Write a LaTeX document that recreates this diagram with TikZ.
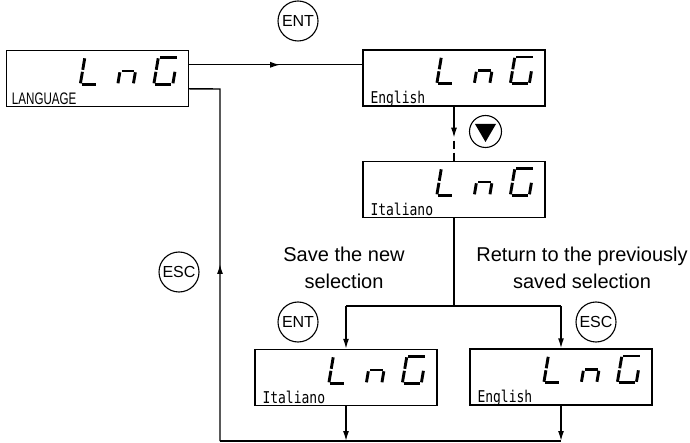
\documentclass[tikz,border=0pt]{standalone}
\usepackage{fontspec}
\usepackage{graphicx}
\setmainfont{Liberation Sans}
\newfontfamily\lcdfont{DejaVu Sans Mono}
\usetikzlibrary{arrows.meta,calc,decorations.markings}
\tikzset{
  lcd/.style={draw,line width=1.4pt,minimum width=182pt,minimum height=56pt,inner sep=0pt},
  conn/.style={line width=1.4pt},
  tip/.style={-{Latex[length=10pt,width=6pt]}},
  midtip/.style={postaction={decorate},decoration={markings,mark=at position #1 with {\arrow{Latex[length=10pt,width=6pt]}}}},
  key/.style={circle,draw,line width=1.1pt,minimum size=40pt,inner sep=0pt,font=\fontsize{16}{16}\selectfont},
  seg/.style={line width=2.9pt},
  lab/.style={font=\fontsize{20}{27}\selectfont,align=center},
  boxtext/.style={anchor=base west,inner sep=0pt,font=\lcdfont\fontsize{13}{13}\selectfont},
  lng/.pic={
    \begin{scope}[shift={(-109,35)},xslant=0.17]
      \draw[seg] (0,-26.5)--(0,-15); \draw[seg] (0,-13)--(0,-1.5); \draw[seg] (1.5,-0.5)--(15.5,-0.5);
    \end{scope}
    \begin{scope}[shift={(-71.5,35)},xslant=0.17]
      \draw[seg] (0,-12.5)--(0,-1.5); \draw[seg] (15.5,-12.5)--(15.5,-1.5); \draw[seg] (1.5,-13.8)--(14,-13.8);
    \end{scope}
    \begin{scope}[shift={(-35.5,35)},xslant=0.17]
      \draw[seg] (1.5,-27.3)--(18.5,-27.3);
      \draw[seg] (0,-26.5)--(0,-15); \draw[seg] (0,-13)--(0,-1.5);
      \draw[seg] (1.5,-0.5)--(17.5,-0.5); \draw[seg] (19,-13)--(19,-1.5);
    \end{scope}
  }
}
\begin{document}
\begin{tikzpicture}[x=1pt,y=-1pt]
\useasboundingbox (0,0) rectangle (690,443);
% displays
\node[lcd] (b1) at (97.5,78.5) {};
\node[lcd] (b2) at (454,78) {};
\node[lcd] (b3) at (454,189.5) {};
\node[lcd] (b4) at (346,377.5) {};
\node[lcd] (b5) at (561,377) {};
\pic at (b1.north east) {lng};
\pic at (b2.north east) {lng};
\pic at (b3.north east) {lng};
\pic at (b4.north east) {lng};
\pic at (b5.north east) {lng};
\node[anchor=base west,inner sep=0pt] (t1) at ($(b1.south west)+(6,-3)$) {\scalebox{0.8}[1.15]{\fontsize{14.5}{15}\selectfont LANGUAGE}};
\node[boxtext] (t2) at ($(b2.south west)+(8,-3)$) {\scalebox{1}[1.25]{English}};
\node[boxtext] (t3) at ($(b3.south west)+(8,-3)$) {\scalebox{1}[1.25]{Italiano}};
\node[boxtext] (t4) at ($(b4.south west)+(8,-3)$) {\scalebox{1}[1.25]{Italiano}};
\node[boxtext] (t5) at ($(b5.south west)+(8,-3)$) {\scalebox{1}[1.25]{English}};
% keys
\node[key] (k1) at (298,21) {ENT};
\node[key] (k2) at (179,272) {ESC};
\node[key] (k3) at (298,322) {ENT};
\node[key] (k4) at (596,322) {ESC};
\node[circle,draw,line width=1.1pt,minimum size=32pt,inner sep=0pt] (k5) at (485.5,131.5) {};
\fill (k5.center) ++(-10.5,-7.5) -- ++(21,0) -- ++(-10.5,18) -- cycle;
% labels
\node[lab] (s1) at (344,268) {Save the new\\selection};
\node[lab] (s2) at (582,268) {Return to the previously\\saved selection};
% connectors
\coordinate (p1) at ($(b1.north east)+(0,15)$);
\draw[conn,midtip=91pt] (p1) -- (p1 -| b2.west);
\coordinate (r1) at ($(b1.north east)+(0,39)$);
\coordinate (c1) at (220,89);
\coordinate (bl) at (220,441);
\draw[conn,midtip=177pt] (bl) -- (c1) -- (r1);
\draw[conn] (bl) -- (bl -| b5.south);
\draw[conn,tip] (b4.south) -- (b4.south |- bl);
\draw[conn,tip] (b5.south) -- (b5.south |- bl);
\coordinate (d1) at ($(b2.south)+(0,31)$);
\draw[conn,tip] (b2.south) -- (d1);
\draw[conn,dash pattern=on 8pt off 4pt] ($(d1)+(0,3)$) -- (b3.north);
\coordinate (sp) at ($(b3.south)+(0,88)$);
\draw[conn] (b3.south) -- (sp);
\draw[conn] (sp -| b4.north) -- (sp -| b5.north);
\draw[conn,tip] (sp -| b4.north) -- (b4.north);
\draw[conn,tip] (sp -| b5.north) -- (b5.north);
\end{tikzpicture}
\end{document}
